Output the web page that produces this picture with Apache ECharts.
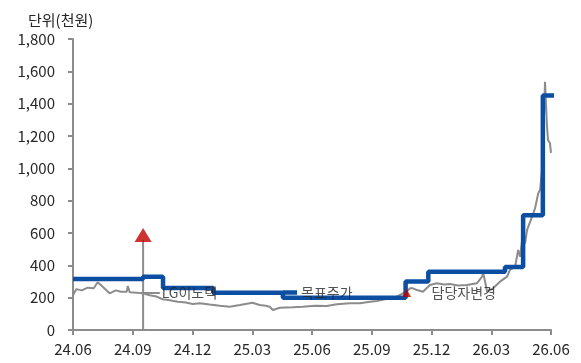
<!DOCTYPE html>
<html>
<head>
<meta charset="utf-8">
<script src="https://cdn.jsdelivr.net/npm/echarts@6/dist/echarts.min.js"></script>
<style>
  html, body { margin: 0; padding: 0; background: #fff; }
  #chart { width: 581px; height: 363px; }
</style>
</head>
<body>
<div id="chart"></div>
<script>
// x = months since 24.06
var xTickLabels = ['24.06', '24.09', '24.12', '25.03', '25.06', '25.09', '25.12', '26.03', '26.06']

// 주가 (천원)
var priceX = [0, 0.17, 0.44, 0.74, 1.04, 1.24, 1.49, 1.84, 2.15, 2.4, 2.7, 2.75, 2.85, 3.2, 3.5,
  3.85, 4.2, 4.5, 4.86, 5.26, 5.66, 6.01, 6.37, 6.86, 7.37, 7.87, 8.38, 8.73, 9.01, 9.37,
  9.68, 9.88, 10.03, 10.38, 11.03, 11.54, 12.14, 12.74, 13.25, 13.9, 14.41, 14.91, 15.26, 15.66,
  16.26, 16.56, 16.75, 16.92, 17.07, 17.27, 17.57, 17.92, 18.27, 18.63, 18.93, 19.33, 19.78,
  20.28, 20.54, 20.59, 20.69, 20.79, 21.09, 21.44, 21.79, 21.94, 22.2, 22.35, 22.45, 22.55,
  22.7, 22.8, 23.05, 23.2, 23.36, 23.45, 23.55, 23.6, 23.7, 23.8, 23.85, 23.95, 24.0]
var priceY = [215, 253, 245, 262, 258, 295, 268, 227, 245, 237, 237, 272, 233, 230, 227,
  215, 207, 190, 184, 175, 170, 161, 166, 158, 150, 144, 154, 162, 169, 155,
  150, 144, 124, 138, 140, 144, 150, 148, 159, 165, 165, 175, 179, 190,
  206, 227, 237, 258, 258, 247, 237, 278, 289, 282, 284, 275, 278,
  289, 330, 354, 300, 237, 258, 299, 330, 371, 392, 495, 453, 557,
  536, 619, 701, 753, 846, 866, 990, 1113, 1536, 1258, 1175, 1155, 1095]

// 목표주가 (천원), value holds from targetX[i]
var targetX = [0, 3.52, 4.52, 7.04, 10.54, 16.7, 17.84, 21.69, 22.6, 23.59, 24.26]
var targetY = [315, 330, 260, 230, 200, 300, 360, 390, 710, 1450, 1450]

// 이벤트 (커버리지 개시, 담당자변경)
var eventX = [3.52, 16.75]
var eventY = [588, 229]

var priceData = priceX.map(function(x, i) { return [x, priceY[i]] })
var targetData = targetX.map(function(x, i) { return [x, targetY[i]] })

var textColor = '#262626'
var axisColor = '#8c8c8c'
var font = 'Noto Sans CJK KR'

var chart = echarts.init(document.getElementById('chart'))
chart.setOption({
  animation: false,
  title: {
    text: '단위(천원)',
    left: 23,
    top: 8,
    textStyle: { fontFamily: font, fontSize: 15, fontWeight: 'normal', color: textColor }
  },
  grid: { left: 73, right: 30, top: 39, bottom: 33 },
  xAxis: {
    type: 'value',
    min: 0,
    max: 24,
    interval: 3,
    axisLine: { lineStyle: { color: axisColor, width: 2 } },
    axisTick: { show: true, length: 5, lineStyle: { color: axisColor, width: 2 } },
    axisLabel: {
      margin: 12,
      fontFamily: font,
      fontSize: 15,
      color: textColor,
      formatter: function(v) { return xTickLabels[Math.round(v / 3)] || '' }
    },
    splitLine: { show: false }
  },
  yAxis: {
    type: 'value',
    min: 0,
    max: 1800,
    interval: 200,
    axisLine: { show: true, lineStyle: { color: axisColor, width: 2 } },
    axisTick: { show: true, length: 5, lineStyle: { color: axisColor, width: 2 } },
    axisLabel: {
      margin: 18,
      fontFamily: font,
      fontSize: 15,
      color: textColor,
      formatter: function(v) { return v.toLocaleString('en-US') }
    },
    splitLine: { show: false }
  },
  series: [
    {
      name: '주가',
      type: 'line',
      data: priceData,
      symbol: 'none',
      lineStyle: { color: '#8c8c8c', width: 2 },
      z: 2
    },
    {
      name: '이벤트선',
      type: 'line',
      data: [[eventX[0], 0], [eventX[0], eventY[0] - 30]],
      symbol: 'none',
      lineStyle: { color: axisColor, width: 2 },
      z: 1
    },
    {
      name: '목표주가',
      type: 'line',
      step: 'end',
      data: targetData,
      symbol: 'none',
      clip: false,
      lineStyle: { color: '#0b4ea2', width: 4.5 },
      z: 3
    },
    {
      name: '주가 지시선',
      type: 'line',
      data: [[eventX[0], 229], [4.36, 229]],
      symbol: 'none',
      lineStyle: { color: axisColor, width: 2 },
      z: 2
    },
    {
      name: '목표주가 지시선',
      type: 'line',
      data: [[10.54, 232], [11.25, 232]],
      symbol: 'none',
      lineStyle: { color: '#0b4ea2', width: 4.5 },
      z: 3
    },
    {
      name: '이벤트',
      type: 'scatter',
      data: [
        { value: [eventX[0], eventY[0]], symbolSize: [17, 14] },
        { value: [eventX[1], eventY[1]], symbolSize: [9, 8] }
      ],
      symbol: 'triangle',
      itemStyle: { color: '#c00000' },
      z: 4
    },
    {
      name: '라벨',
      type: 'scatter',
      data: [[4.45, 229, 'LG이노텍'], [11.45, 229, '목표주가'], [18.0, 229, '담당자변경']],
      symbolSize: 0,
      label: {
        show: true,
        position: 'right',
        distance: 0,
        fontFamily: font,
        fontSize: 14,
        color: textColor,
        formatter: function(p) { return p.value[2] }
      },
      z: 5
    }
  ]
})
</script>
</body>
</html>
